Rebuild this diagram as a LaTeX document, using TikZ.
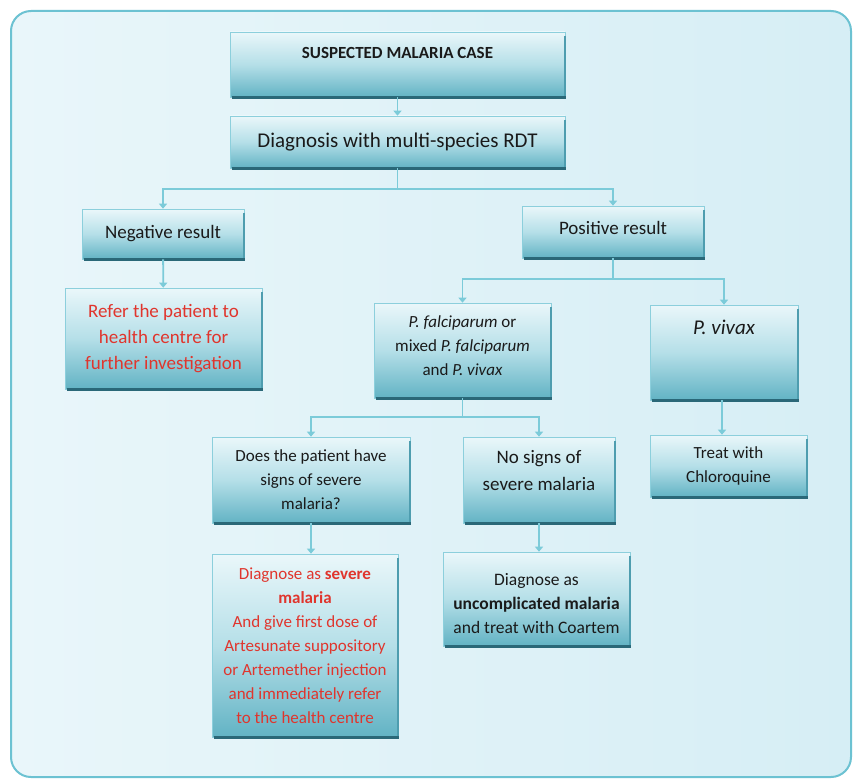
\documentclass[tikz,border=0pt]{standalone}
\usepackage{fontspec}
\setmainfont{Carlito}
\usetikzlibrary{arrows.meta}
\definecolor{framecol}{HTML}{6CC2D2}
\definecolor{bgleft}{HTML}{E9F6FA}
\definecolor{bgright}{HTML}{D6EEF5}
\definecolor{boxtop}{HTML}{EAF7FA}
\definecolor{boxmid}{HTML}{B5DFE8}
\definecolor{boxbot}{HTML}{62B3C4}
\definecolor{boxline}{HTML}{8CCFDC}
\definecolor{edgedark}{HTML}{2A6878}
\definecolor{edgeside}{HTML}{4E9DAF}
\definecolor{linkcol}{HTML}{7CCBD9}
\definecolor{redtext}{HTML}{E0352D}
\definecolor{darktext}{HTML}{1A1A1A}
% invisible struts that move a label up (depth) or down (height) inside its box
\newcommand{\lowstrut}[1]{\rule[-#1]{0pt}{#1}}
\newcommand{\highstrut}[1]{\rule{0pt}{#1}}
\tikzset{
  flowbox/.style={rectangle, draw=boxline, line width=0.6pt,
    top color=boxtop, bottom color=boxbot, middle color=boxmid,
    inner sep=0pt, align=center, text=darktext},
  link/.style={draw=linkcol, line width=1.8pt},
  arrowlink/.style={link, -{Triangle[width=8pt,length=5pt]}},
  edgeline/.style={draw=edgedark, line width=2.6pt},
  sideline/.style={draw=edgeside, line width=1.2pt},
  txtnine/.style={font=\fontsize{19}{26}\selectfont},
  txtseven/.style={font=\fontsize{17}{24}\selectfont},
}
\begin{document}
\begin{tikzpicture}[x=1pt,y=-1pt]
\useasboundingbox (0,0) rectangle (856,781);
% outer panel
\fill[white] (0,0) rectangle (856,781);
\draw[framecol, line width=2pt, rounded corners=20pt, left color=bgleft, right color=bgright]
  (11,11) rectangle (851,777);

% boxes
\node[flowbox, minimum width=335pt, minimum height=65pt, font=\bfseries\fontsize{17}{20}\selectfont]
  (case) at (397.5,64.5) {SUSPECTED MALARIA CASE\lowstrut{24pt}};
\node[flowbox, minimum width=335pt, minimum height=52pt, font=\fontsize{21}{26}\selectfont]
  (rdt) at (397.5,142) {Diagnosis with multi-species RDT};
\node[flowbox, minimum width=162pt, minimum height=50pt, txtnine]
  (neg) at (163,234) {Negative result};
\node[flowbox, minimum width=182pt, minimum height=52pt, txtnine]
  (pos) at (613,232) {Positive result\lowstrut{8pt}};
\node[flowbox, minimum width=197pt, minimum height=101pt, txtnine, text=redtext]
  (refer) at (163.5,338.5) {Refer the patient to\\health centre for\\further investigation};
\node[flowbox, minimum width=177pt, minimum height=95pt, txtseven]
  (falc) at (462.5,350.5) {\textit{P. falciparum} or\\mixed \textit{P. falciparum}\\and \textit{P. vivax}\lowstrut{9pt}};
\node[flowbox, minimum width=148pt, minimum height=95pt]
  (vivax) at (724,352.5) {};
\node[font=\itshape\fontsize{21}{26}\selectfont, text=darktext, anchor=north]
  (vivaxlabel) at ([yshift=-12pt]vivax.north) {P. vivax};
\node[flowbox, minimum width=198pt, minimum height=86pt, txtseven]
  (signs) at (311,480) {Does the patient have\\signs of severe\\malaria?};
\node[flowbox, minimum width=152pt, minimum height=86pt, font=\fontsize{19}{27}\selectfont]
  (nosigns) at (539,480) {No signs of\\severe malaria\lowstrut{20pt}};
\node[flowbox, minimum width=157pt, minimum height=62pt, txtseven]
  (treat) at (728.5,466) {Treat with\\Chloroquine};
\node[flowbox, minimum width=186pt, minimum height=183pt, txtseven, text=redtext]
  (severe) at (305,645.5) {Diagnose as \textbf{severe}\\\textbf{malaria}\\And give first dose of\\Artesunate suppository\\or Artemether injection\\and immediately refer\\to the health centre};
\node[flowbox, minimum width=187pt, minimum height=94pt, font=\fontsize{17.5}{24}\selectfont]
  (uncomp) at (536.5,599) {\highstrut{22pt}Diagnose as\\\textbf{uncomplicated malaria}\\and treat with Coartem};

% dark lower and right edges of each box
\foreach \n in {case,rdt,neg,pos,refer,falc,vivax,signs,nosigns,treat,severe,uncomp}{
  \draw[sideline] ([xshift=-0.3pt,yshift=-4pt]\n.north east) -- ([xshift=-0.3pt]\n.south east);
  \draw[edgeline] ([xshift=2pt]\n.south west) -- ([xshift=0.5pt]\n.south east);
}

% junctions
\coordinate (j1) at (397.5,189);
\coordinate (j2) at (613,279);
\coordinate (j3) at (462.5,417);

% connectors
\draw[arrowlink] (case) -- (rdt);
\draw[link] (rdt.south) -- (j1);
\draw[arrowlink] (j1) -| (neg.north);
\draw[arrowlink] (j1) -| (pos.north);
\draw[arrowlink] (neg) -- (refer);
\draw[link] (pos.south) -- (j2);
\draw[arrowlink] (j2) -| (falc.north);
\draw[arrowlink] (j2) -| (vivax.north);
\draw[link] (falc.south) -- (j3);
\draw[arrowlink] (j3) -| (signs.north);
\draw[arrowlink] (j3) -| (nosigns.north);
\draw[arrowlink] (signs.south) -- (signs.south |- severe.north);
\draw[arrowlink] (nosigns.south) -- (nosigns.south |- uncomp.north);
\draw[arrowlink] ([xshift=-2pt]vivax.south) -- ([xshift=-2pt]vivax.south |- treat.north);
\end{tikzpicture}
\end{document}
